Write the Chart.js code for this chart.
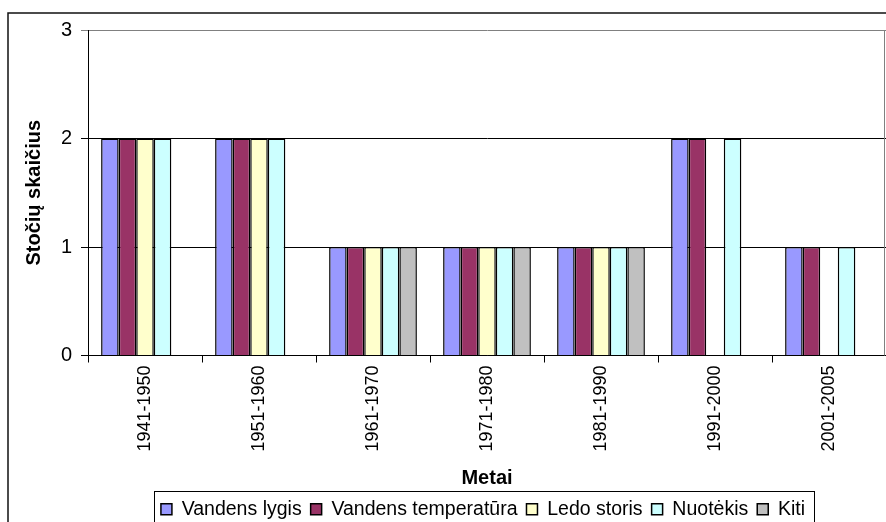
<!DOCTYPE html>
<html>
<head>
<meta charset="utf-8">
<script src="https://cdn.jsdelivr.net/npm/chart.js@4.4.1/dist/chart.umd.min.js"></script>
<style>
  html, body { margin: 0; padding: 0; background: #fff; overflow: hidden; }
  canvas { display: block; }
</style>
</head>
<body>
<canvas id="stationsChart" width="886" height="529"></canvas>
<script>
// Stočių skaičius pagal dešimtmečius
const periods = ['1941-1950', '1951-1960', '1961-1970', '1971-1980', '1981-1990', '1991-2000', '2001-2005'];
const vandensLygis = [2, 2, 1, 1, 1, 2, 1];
const vandensTemperatura = [2, 2, 1, 1, 1, 2, 1];
const ledoStoris = [2, 2, 1, 1, 1, null, null];
const nuotekis = [2, 2, 1, 1, 1, 2, 1];
const kiti = [null, null, 1, 1, 1, null, null];
const yTicks = [0, 1, 2, 3];

const FONT = "'Liberation Sans', Arial, sans-serif";
Chart.defaults.font.family = FONT;
Chart.defaults.color = '#000';

// frame around the whole chart, plot border and legend box
const framePlugin = {
    id: 'frame',
    beforeDraw(chart) {
        const ctx = chart.ctx;
        ctx.save();
        ctx.strokeStyle = '#111';
        ctx.lineWidth = 1.5;
        ctx.strokeRect(8, 13, 1000, 1000);
        ctx.restore();
    },
    afterDraw(chart) {
        const ctx = chart.ctx;
        const a = chart.chartArea;
        ctx.save();
        ctx.strokeStyle = '#808080';
        ctx.lineWidth = 1;
        ctx.beginPath();
        ctx.moveTo(Math.round(a.right) - 1.5, a.top);
        ctx.lineTo(Math.round(a.right) - 1.5, a.bottom);
        ctx.stroke();

        const lg = chart.legend;
        const pad = lg.options.labels.padding;
        const w = lg.lineWidths[0] - pad;
        const cx = (lg.left + lg.right) / 2;
        ctx.strokeStyle = '#000';
        ctx.strokeRect(Math.round(cx - w / 2 - 7) + 0.5, Math.round(lg.top) + 0.5, Math.round(w + 16), 60);
        ctx.restore();
    }
};

// shift legend items to sit under the plot area
const legendShift = {
    id: 'legendShift',
    afterLayout(chart) {
        chart.legend.left += 30;
        chart.legend.right += 30;
    }
};

new Chart(document.getElementById('stationsChart'), {
    type: 'bar',
    data: {
        labels: periods,
        datasets: [
            { label: 'Vandens lygis', data: vandensLygis, backgroundColor: '#9999FF' },
            { label: 'Vandens temperatūra', data: vandensTemperatura, backgroundColor: '#993366' },
            { label: 'Ledo storis', data: ledoStoris, backgroundColor: '#FFFFCC' },
            { label: 'Nuotėkis', data: nuotekis, backgroundColor: '#CCFFFF' },
            { label: 'Kiti', data: kiti, backgroundColor: '#C0C0C0' }
        ].map(d => Object.assign(d, {
            borderColor: '#000',
            borderWidth: 1.5,
            categoryPercentage: 0.77,
            barPercentage: 1
        }))
    },
    options: {
        responsive: false,
        devicePixelRatio: 1,
        animation: false,
        layout: { padding: { left: 20, top: 30, right: 0, bottom: 0 } },
        plugins: {
            tooltip: { enabled: false },
            legend: {
                position: 'bottom',
                labels: {
                    boxWidth: 11,
                    boxHeight: 11,
                    padding: 9,
                    color: '#000',
                    font: { size: 19.5 }
                }
            }
        },
        scales: {
            x: {
                offset: true,
                grid: { drawOnChartArea: false, drawTicks: true, tickLength: 7, color: '#000' },
                border: { color: '#000', width: 1 },
                ticks: { minRotation: 90, maxRotation: 90, padding: 3, font: { size: 18 }, color: '#000' },
                title: { display: true, text: 'Metai', font: { size: 20, weight: 'bold', lineHeight: 1 }, padding: { top: 0, bottom: 2 }, color: '#000' },
                afterFit(scale) { scale.height = 135; }
            },
            y: {
                min: yTicks[0],
                max: yTicks[yTicks.length - 1],
                afterBuildTicks(scale) { scale.ticks = yTicks.map(v => ({ value: v })); },
                grid: {
                    tickLength: 7,
                    color: ctx => (ctx.tick && ctx.tick.value === 3 ? '#808080' : '#000')
                },
                border: { color: '#000', width: 1 },
                ticks: { padding: 9, font: { size: 20 }, color: '#000' },
                title: { display: true, text: 'Stočių skaičius', font: { size: 20, weight: 'bold', lineHeight: 1 }, padding: { top: 4, bottom: 0 }, color: '#000' },
                afterFit(scale) { scale.width = 68; }
            }
        }
    },
    plugins: [legendShift, framePlugin]
});
</script>
</body>
</html>
